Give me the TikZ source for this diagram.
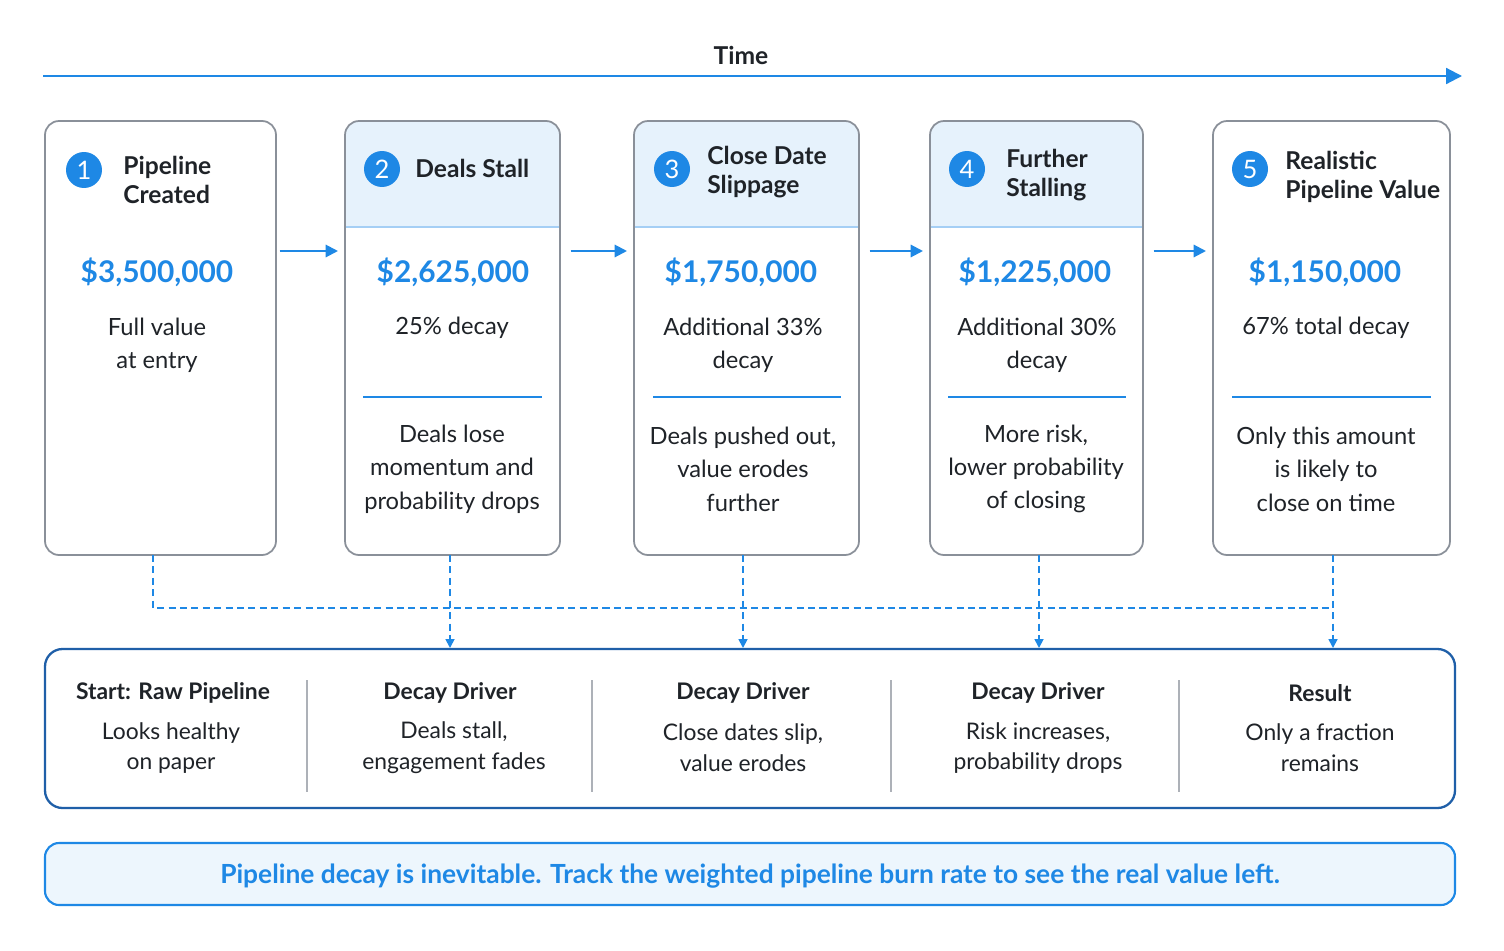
\documentclass[tikz,border=0pt]{standalone}
\usepackage{fontspec}
\setmainfont{Lato}
\usetikzlibrary{arrows.meta}
\definecolor{blu}{HTML}{1E88E5}
\definecolor{dblu}{HTML}{1F5FA8}
\definecolor{lblu}{HTML}{E6F2FC}
\definecolor{gr}{HTML}{8A9099}
\definecolor{txt}{HTML}{1F2328}
\begin{document}
\begin{tikzpicture}[x=0.02cm,y=-0.02cm,
  card/.style={draw=gr,line width=1pt,rounded corners=8pt},
  num/.style={circle,fill=blu,text=white,minimum size=0.72cm,inner sep=0pt,font=\fontsize{14.5}{14}\selectfont},
  ttl/.style={anchor=west,align=left,text=txt,inner sep=0pt,font=\fontsize{14}{16.5}\selectfont\bfseries},
  money/.style={text=blu,font=\fontsize{17}{20}\selectfont\bfseries},
  body/.style={text=txt,align=center,font=\fontsize{13.5}{19}\selectfont},
  small/.style={text=txt,align=center,font=\fontsize{13}{17.5}\selectfont},
  bhead/.style={font=\fontsize{13}{15}\selectfont\bfseries,text=txt},
  flow/.style={-{Triangle[length=7pt,width=7pt]},blu,line width=1.2pt},
  dashln/.style={blu,dash pattern=on 4pt off 2.5pt,line width=1pt},
  sep/.style={blu,line width=1pt}]
\useasboundingbox (0,0) rectangle (1504,950);
\fill[white] (0,0) rectangle (1504,950);
% time
\coordinate (t0) at (43,76); \coordinate (t1) at (1462,76);
\draw[-{Triangle[length=9pt,width=9pt]},blu,line width=1.2pt] (t0) -- (t1);
\node[font=\fontsize{14}{14}\selectfont\bfseries,text=txt] (time) at (741,55) {Time};
% cards
\foreach \n/\a/\b/\h in {c1/45/276/0,c2/345/560/1,c3/634/859/1,c4/930/1143/1,c5/1213/1450/0}{
  \ifnum\h=1
    \fill[lblu,rounded corners=8pt] (\a,121) rectangle (\b,227);
    \fill[lblu] (\a+1,190) rectangle (\b-1,227);
  \fi
  \draw[card] (\a,121) rectangle (\b,555);
  \coordinate (\n l) at (\a,251); \coordinate (\n r) at (\b,251);
}
\draw[blu!40,line width=0.6pt] (346,227)--(559,227) (635,227)--(858,227) (931,227)--(1142,227);
\node[num] (n1) at (84,170) {1}; \node[ttl] (h1) at (123,180) {Pipeline\\Created};
\node[num] (n2) at (382,169) {2}; \node[ttl] (h2) at (415,168) {Deals Stall};
\node[num] (n3) at (672,169) {3}; \node[ttl] (h3) at (707,172) {Close Date\\Slippage};
\node[num] (n4) at (967,169) {4}; \node[ttl] (h4) at (1006,175) {Further\\Stalling};
\node[num] (n5) at (1250,169) {5}; \node[ttl] (h5) at (1285,177) {Realistic\\Pipeline Value};
\node[money] (m1) at (157,272) {\$3,500,000};
\node[money] (m2) at (453,272) {\$2,625,000};
\node[money] (m3) at (741,272) {\$1,750,000};
\node[money] (m4) at (1035,272) {\$1,225,000};
\node[money] (m5) at (1325,272) {\$1,150,000};
\node[body] (d1) at (157,345) {Full value\\at entry};
\node[body] (d2) at (452,328) {25\% decay};
\node[body] (d3) at (743,345) {Additional 33\%\\decay};
\node[body] (d4) at (1037,345) {Additional 30\%\\decay};
\node[body] (d5) at (1326,328) {67\% total decay};
\draw[sep] (363,397)--(542,397); \draw[sep] (653,397)--(841,397);
\draw[sep] (948,397)--(1126,397); \draw[sep] (1232,397)--(1431,397);
\node[body] (e2) at (452,469) {Deals lose\\momentum and\\probability drops};
\node[body] (e3) at (743,469) {Deals pushed out,\\value erodes\\further};
\node[body] (e4) at (1036,469) {More risk,\\lower probability\\of closing};
\node[body] (e5) at (1326,469) {Only this amount\\is likely to\\close on time};
% flow arrows
\draw[flow] ([xshift=2]c1r) -- ([xshift=-4]c2l);
\draw[flow] ([xshift=6]c2r) -- ([xshift=-4]c3l);
\draw[flow] ([xshift=6]c3r) -- ([xshift=-4]c4l);
\draw[flow] ([xshift=6]c4r) -- ([xshift=-4]c5l);
% bottom box
\draw[dblu,line width=1.3pt,rounded corners=10pt] (45,649) rectangle (1455,808);
\coordinate (k1) at (153,555); \coordinate (k2) at (450,555); \coordinate (k3) at (743,555);
\coordinate (k4) at (1039,555); \coordinate (k5) at (1333,555);
\draw[dashln] (k1) -- (153,608) -- (1333,608);
\foreach \k/\x in {k2/450,k3/743,k4/1039,k5/1333}
  \draw[dashln,-{Triangle[length=5pt,width=5pt]}] (\k) -- (\x,648);
\foreach \x in {307,592,891,1179}\draw[gr!70,line width=0.8pt] (\x,680)--(\x,792);
\node[bhead] (b1) at (173,693) {Start: Raw Pipeline};
\node[small] (s1) at (171,748) {Looks healthy\\on paper};
\node[bhead] (b2) at (450,693) {Decay Driver};
\node[small] (s2) at (454,748) {Deals stall,\\engagement fades};
\node[bhead] (b3) at (743,693) {Decay Driver};
\node[small] (s3) at (743,748) {Close dates slip,\\value erodes};
\node[bhead] (b4) at (1038,693) {Decay Driver};
\node[small] (s4) at (1038,748) {Risk increases,\\probability drops};
\node[bhead] (b5) at (1320,693) {Result};
\node[small] (s5) at (1320,748) {Only a fraction\\remains};
% footer
\draw[blu,fill=lblu!70,line width=1.2pt,rounded corners=8pt] (45,843) rectangle (1455,905);
\node[text=blu,font=\fontsize{15}{15}\selectfont\bfseries] (ft) at (750,876) {Pipeline decay is inevitable. Track the weighted pipeline burn rate to see the real value left.};
\end{tikzpicture}
\end{document}
